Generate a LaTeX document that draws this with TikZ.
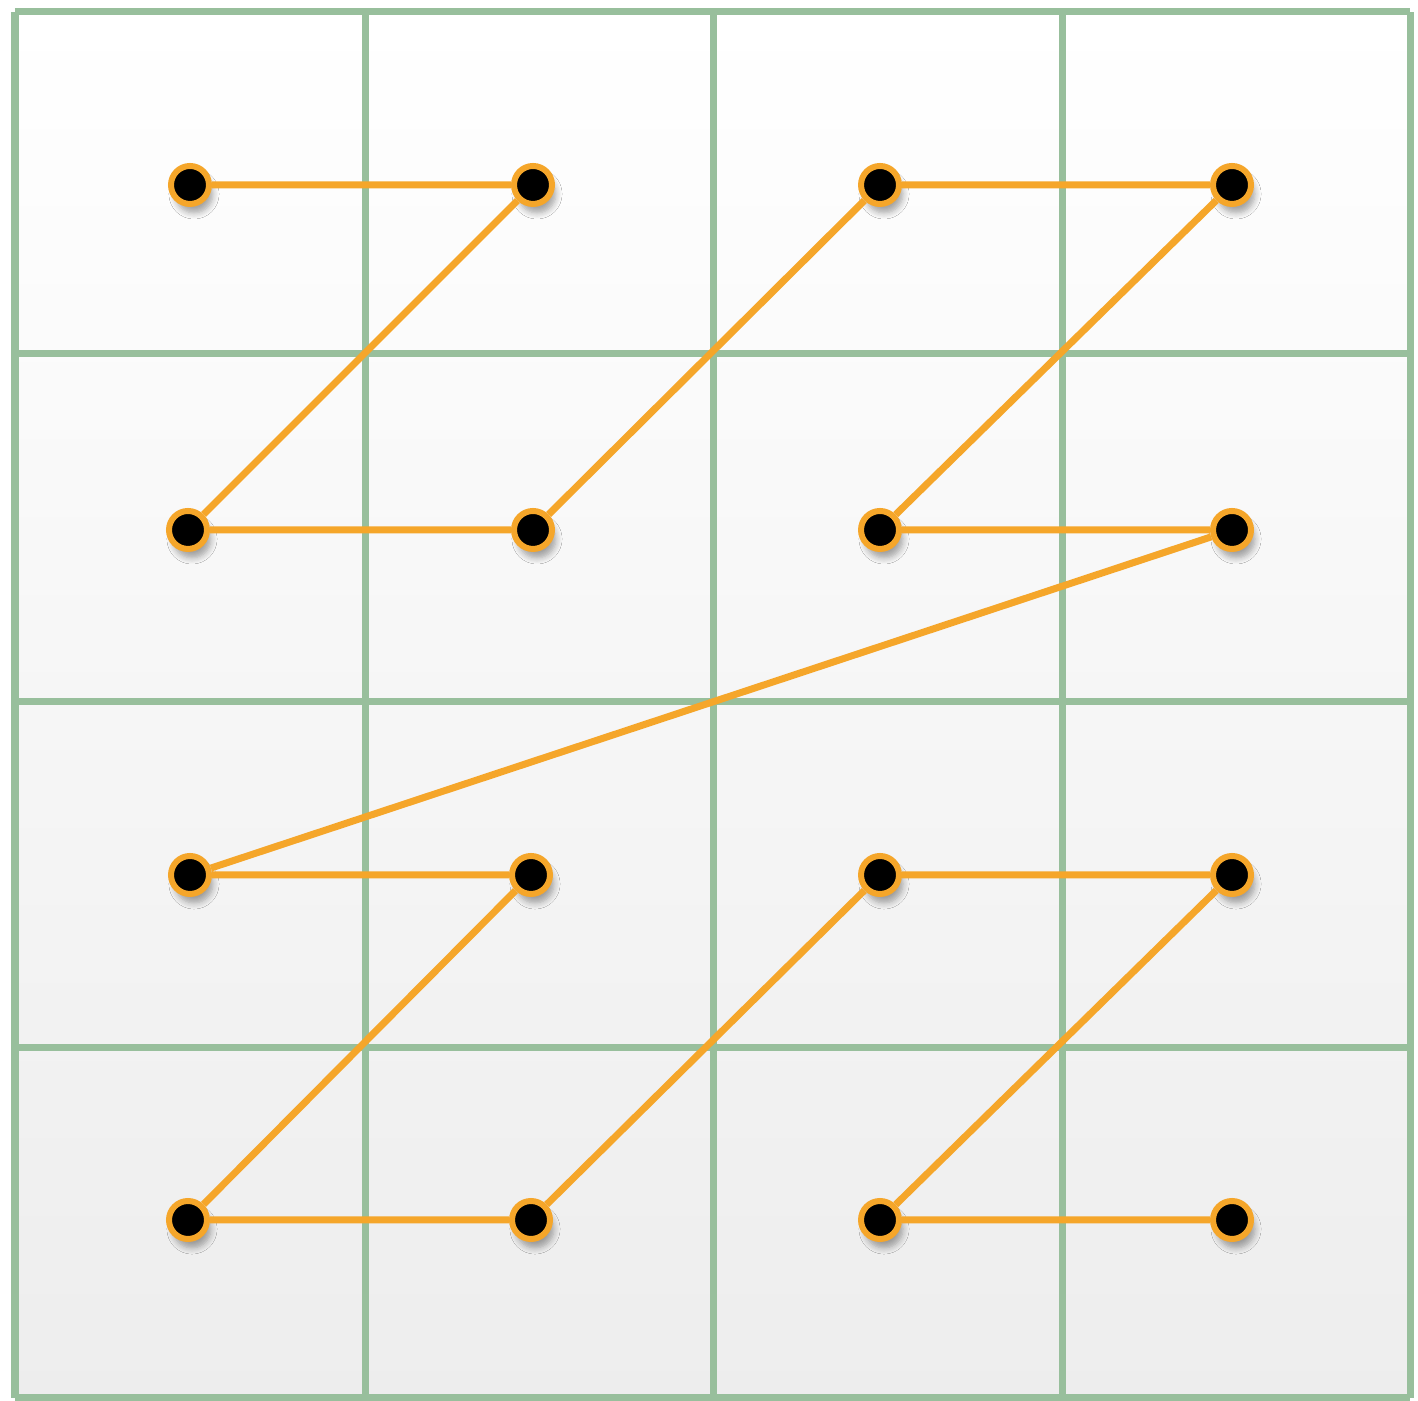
\documentclass[tikz,border=0pt]{standalone}
\usepackage{xcolor}
\usepackage{tikz}
\usetikzlibrary{shadows.blur}

\definecolor{gridgreen}{HTML}{98BF9C}
\definecolor{zorange}{HTML}{F5A62A}

\begin{document}
\begin{tikzpicture}[x=1cm,y=1cm,
  cell/.style={draw=gridgreen,line width=0.07cm},
  pt/.style={circle,fill=black,draw=zorange,line width=0.06cm,minimum size=0.38cm,inner sep=0pt,
             blur shadow={shadow xshift=0.4mm,shadow yshift=-0.9mm,shadow opacity=35,shadow blur steps=6}},
  zline/.style={draw=zorange,line width=0.07cm}
]
\useasboundingbox (0,0) rectangle (14.18,14.01);
\shade[top color=white,bottom color=black!7] (0.15,0.03) rectangle (14.10,13.89);

% grid
\foreach \gx in {0.15,3.65,7.13,10.62,14.10}
  \draw[cell] (\gx,0.03)--(\gx,13.89);
\foreach \gy in {0.03,3.53,6.99,10.47,13.89}
  \draw[cell] (0.15,\gy)--(14.10,\gy);

% points, named by column and row
\node[pt] (a1) at (1.90,12.16) {};
\node[pt] (b1) at (5.33,12.16) {};
\node[pt] (c1) at (8.80,12.16) {};
\node[pt] (d1) at (12.32,12.16) {};
\node[pt] (a2) at (1.88,8.71) {};
\node[pt] (b2) at (5.33,8.71) {};
\node[pt] (c2) at (8.80,8.71) {};
\node[pt] (d2) at (12.32,8.71) {};
\node[pt] (a3) at (1.90,5.26) {};
\node[pt] (b3) at (5.31,5.26) {};
\node[pt] (c3) at (8.80,5.26) {};
\node[pt] (d3) at (12.32,5.26) {};
\node[pt] (a4) at (1.88,1.81) {};
\node[pt] (b4) at (5.31,1.81) {};
\node[pt] (c4) at (8.80,1.81) {};
\node[pt] (d4) at (12.32,1.81) {};

% z-order path
\draw[zline] (a1)--(b1)--(a2)--(b2)--(c1)--(d1)--(c2)--(d2)--(a3)--(b3)--(a4)--(b4)--(c3)--(d3)--(c4)--(d4);
\end{tikzpicture}
\end{document}
